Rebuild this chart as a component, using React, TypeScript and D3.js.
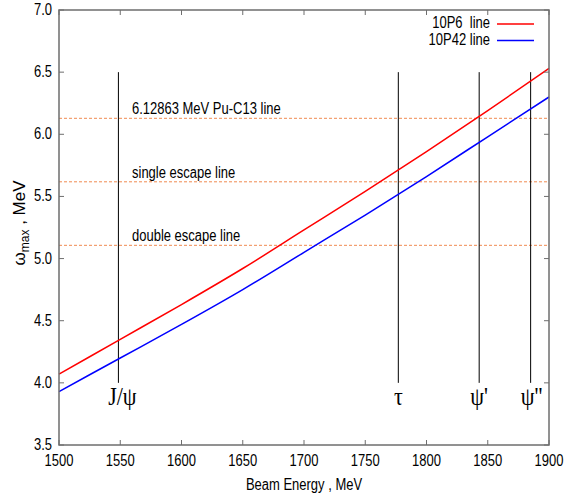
import React from 'react';
import * as d3 from 'd3';

// beam energy (MeV) and max photon energy (MeV)
const energies = [1500, 1550, 1600, 1650, 1700, 1750, 1800, 1850, 1900];
const line10P6 = [4.07, 4.35, 4.63, 4.92, 5.23, 5.54, 5.86, 6.19, 6.53];
const line10P42 = [3.93, 4.2, 4.47, 4.75, 5.05, 5.35, 5.66, 5.98, 6.3];

const seriesNames = ['10P6  line', '10P42 line'];
const seriesColors = ['#ff0000', '#0000ff'];

const refValues = [6.12863, 5.61763, 5.10663];
const refLabels = ['6.12863 MeV Pu-C13 line', 'single escape line', 'double escape line'];

const resonanceE = [1548.5, 1777, 1843, 1885];
const resonanceLabels = ['J/ψ', 'τ', 'ψ\'', 'ψ\'\''];
const resonanceShift = [4, 0, 0, 1];

const xTicks = [1500, 1550, 1600, 1650, 1700, 1750, 1800, 1850, 1900];
const yTicks = [3.5, 4.0, 4.5, 5.0, 5.5, 6.0, 6.5, 7.0];

const W = 566;
const H = 495;
const left = 59;
const right = 549;
const top = 10;
const bottom = 445;
const font = 'Liberation Sans, Arial, sans-serif';
const frame = '#6e6e6e';

// gnuplot output is a bit stretched vertically
const T = ({ x, y, anchor = 'start', size = 13, sy = 1.2, children, family = font }: any) => (
  <text
    transform={`translate(${x},${y}) scale(1,${sy})`}
    textAnchor={anchor}
    fontSize={size}
    fontFamily={family}
    fill="#000"
    style={{ whiteSpace: 'pre' }}
  >
    {children}
  </text>
);

export default function App() {
  const x = d3.scaleLinear().domain([1500, 1900]).range([left, right]);
  const y = d3.scaleLinear().domain([3.5, 7.0]).range([bottom, top]);

  const line = d3
    .line<number>()
    .x((_, i) => x(energies[i]))
    .y((d) => y(d))
    .curve(d3.curveMonotoneX);

  const series = [line10P6, line10P42];

  return (
    <svg width={W} height={H} style={{ position: 'absolute', left: 0, top: 0 }}>
      <rect width={W} height={H} fill="#fff" />

      {/* reference lines */}
      {refValues.map((v, i) => (
        <g key={refLabels[i]}>
          <line
            x1={left}
            x2={right}
            y1={y(v)}
            y2={y(v)}
            stroke="#f08a50"
            strokeWidth={1}
            strokeDasharray="3,2"
          />
          <T x={132} y={y(v) - 4}>{refLabels[i]}</T>
        </g>
      ))}

      {/* resonances */}
      {resonanceE.map((e, i) => (
        <g key={resonanceLabels[i]}>
          <line x1={x(e)} x2={x(e)} y1={y(6.5)} y2={y(4.0)} stroke="#000" strokeWidth={1} />
          <T x={x(e) + resonanceShift[i]} y={405} anchor="middle" size={22} sy={1.1} family="Liberation Serif, serif">
            {resonanceLabels[i]}
          </T>
        </g>
      ))}

      {/* curves */}
      {series.map((s, i) => (
        <path key={i} d={line(s) || ''} fill="none" stroke={seriesColors[i]} strokeWidth={1.5} />
      ))}

      {/* frame and ticks */}
      <rect x={left} y={top} width={right - left} height={bottom - top} fill="none" stroke={frame} strokeWidth={1.5} />
      {xTicks.map((t) => (
        <g key={t}>
          <line x1={x(t)} x2={x(t)} y1={bottom} y2={bottom - 5} stroke={frame} />
          <line x1={x(t)} x2={x(t)} y1={top} y2={top + 5} stroke={frame} />
          <T x={x(t)} y={bottom + 21} anchor="middle">{t}</T>
        </g>
      ))}
      {yTicks.map((t) => (
        <g key={t}>
          <line x1={left} x2={left + 5} y1={y(t)} y2={y(t)} stroke={frame} />
          <line x1={right} x2={right - 5} y1={y(t)} y2={y(t)} stroke={frame} />
          <T x={left - 7} y={y(t) + 5} anchor="end">{t.toFixed(1)}</T>
        </g>
      ))}

      {/* axis titles */}
      <T x={(left + right) / 2} y={490} anchor="middle">Beam Energy , MeV</T>
      <text
        transform="translate(25,223) rotate(-90)"
        textAnchor="middle"
        fontSize={17}
        fontFamily={font}
      >
        ω<tspan fontSize={12} dy={4}>max</tspan>
        <tspan dy={-4}> , MeV</tspan>
      </text>

      {/* legend */}
      {seriesNames.map((n, i) => (
        <g key={n}>
          <T x={490} y={28 + i * 16.5} anchor="end">{n}</T>
          <line x1={497} x2={534} y1={24 + i * 16.5} y2={24 + i * 16.5} stroke={seriesColors[i]} strokeWidth={1.5} />
        </g>
      ))}
    </svg>
  );
}
